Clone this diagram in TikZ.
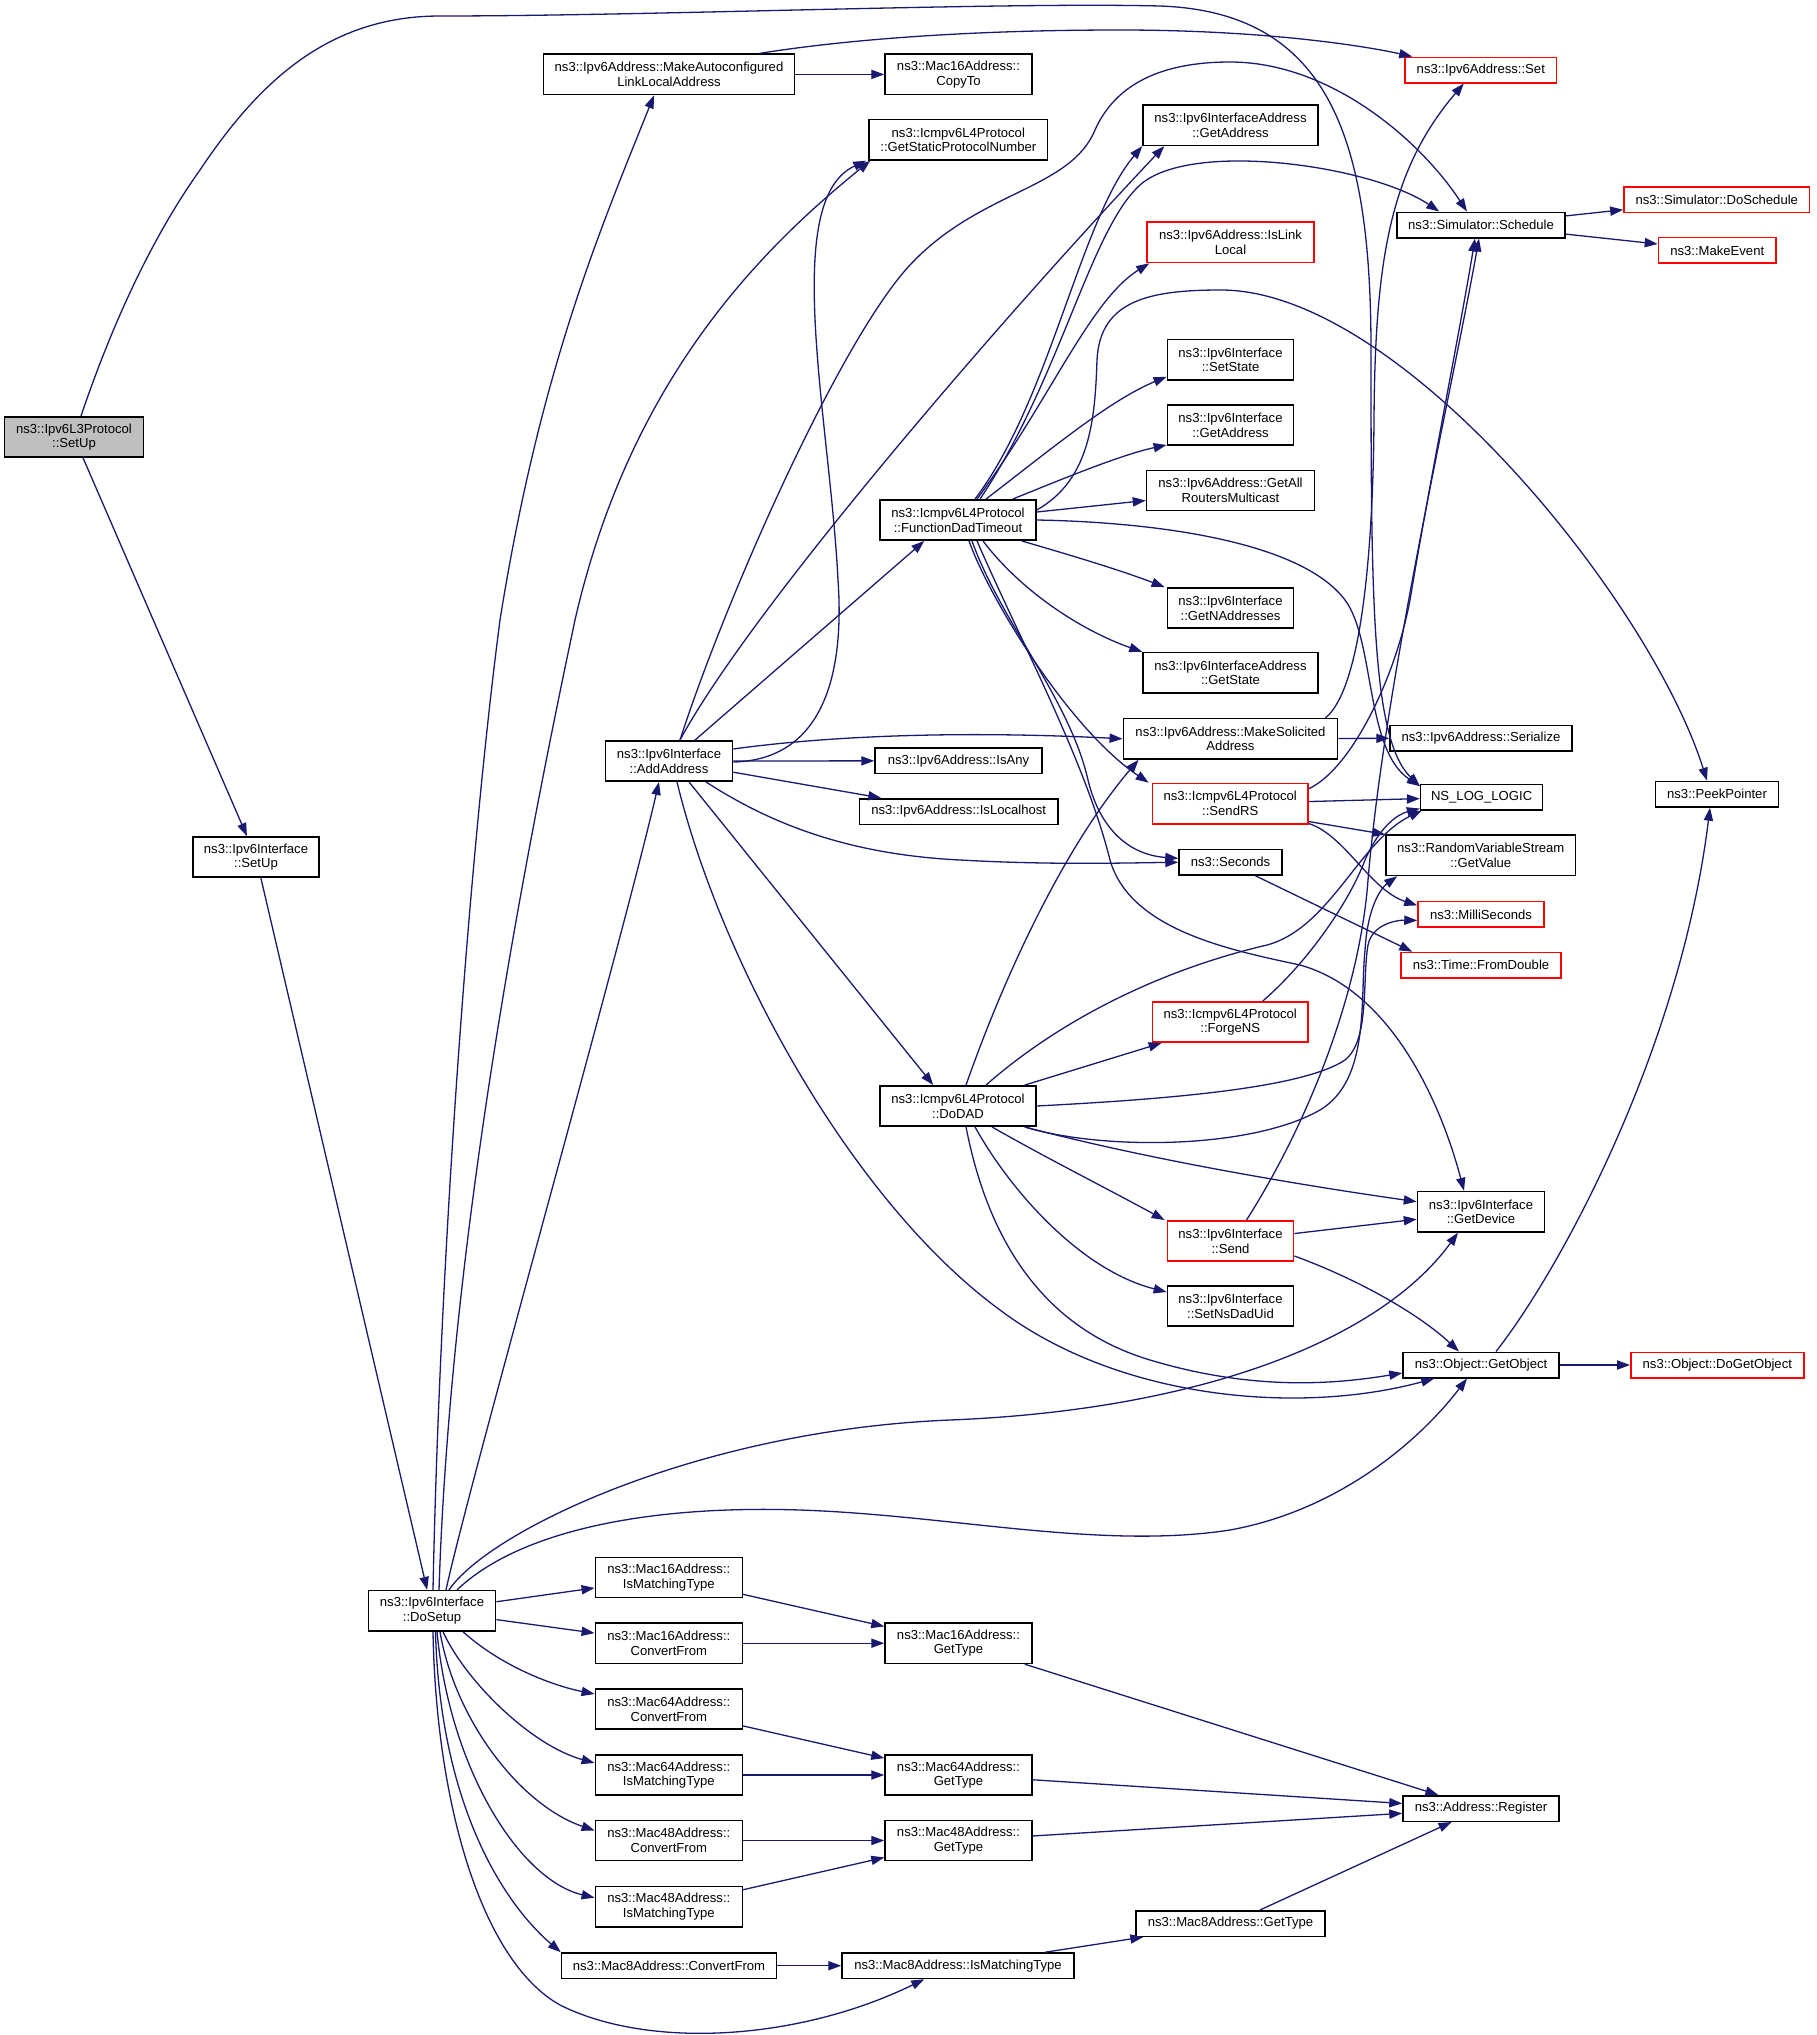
\documentclass[tikz,border=0pt]{standalone}
\usepackage{fontspec}
\setmainfont{Liberation Sans}
\usetikzlibrary{arrows.meta,calc}
\definecolor{edgec}{HTML}{191970}
\definecolor{rootfill}{HTML}{BFBFBF}
\tikzset{
 box/.style={draw=black, line width=0.75pt, fill=white, rectangle, inner sep=0pt, align=center,
   font=\fontsize{6.55pt}{7.35pt}\selectfont, minimum height=20.2pt},
 sbox/.style={box, minimum height=12.75pt},
 redc/.style={draw=red},
 edge/.style={draw=edgec, line width=0.65pt, -{Triangle[length=6.5pt,width=4.6pt]}},
}
\begin{document}
\begin{tikzpicture}[x=0.5pt,y=-0.5pt]
\useasboundingbox (0,0) rectangle (1816,2035);
% nodes
\node[box, fill=rootfill, minimum width=69.5pt] (setup3) at (74,437) {ns3::Ipv6L3Protocol\\::SetUp};
\node[box, minimum width=125.5pt] (makeauto) at (669,74.4) {ns3::Ipv6Address::MakeAutoconfigured\\LinkLocalAddress};
\node[box, minimum width=73.5pt] (copyto) at (958.5,74.4) {ns3::Mac16Address::\\CopyTo};
\node[box, minimum width=89.3pt] (getstatic) at (958.3,139.8) {ns3::Icmpv6L4Protocol\\::GetStaticProtocolNumber};
\node[box, minimum width=87.5pt] (ifaddrgetaddr) at (1230.5,125.2) {ns3::Ipv6InterfaceAddress\\::GetAddress};
\node[sbox, redc, minimum width=75.8pt] (set) at (1480.8,70) {ns3::Ipv6Address::Set};
\node[sbox, minimum width=84pt] (schedule) at (1481,225) {ns3::Simulator::Schedule};
\node[sbox, redc, minimum width=92.9pt] (doschedule) at (1716.8,199.7) {ns3::Simulator::DoSchedule};
\node[sbox, redc, minimum width=58.75pt] (makeevent) at (1717.2,250.4) {ns3::MakeEvent};
\node[box, redc, minimum width=83.5pt] (islinklocal) at (1230.5,242.4) {ns3::Ipv6Address::IsLink\\Local};
\node[box, minimum width=63.15pt] (setstate) at (1230.5,359.8) {ns3::Ipv6Interface\\::SetState};
\node[box, minimum width=63.15pt] (ifgetaddr) at (1230.5,425) {ns3::Ipv6Interface\\::GetAddress};
\node[box, minimum width=84pt] (getallrouters) at (1230.5,490.5) {ns3::Ipv6Address::GetAll\\RoutersMulticast};
\node[box, minimum width=78pt] (fdt) at (958,520) {ns3::Icmpv6L4Protocol\\::FunctionDadTimeout};
\node[box, minimum width=63.15pt] (getnaddr) at (1230.5,608) {ns3::Ipv6Interface\\::GetNAddresses};
\node[box, minimum width=87.5pt] (ifaddrgetstate) at (1230.5,672.8) {ns3::Ipv6InterfaceAddress\\::GetState};
\node[box, minimum width=63pt] (ifsetup) at (256,857) {ns3::Ipv6Interface\\::SetUp};
\node[box, minimum width=63.5pt] (addaddr) at (669,761) {ns3::Ipv6Interface\\::AddAddress};
\node[sbox, minimum width=83.5pt] (isany) at (958.5,760.8) {ns3::Ipv6Address::IsAny};
\node[sbox, minimum width=99.3pt] (islocalhost) at (958.7,811.5) {ns3::Ipv6Address::IsLocalhost};
\node[box, minimum width=78pt] (dodad) at (958,1106) {ns3::Icmpv6L4Protocol\\::DoDAD};
\node[box, minimum width=107.2pt] (makesol) at (1230.5,738.8) {ns3::Ipv6Address::MakeSolicited\\Address};
\node[sbox, minimum width=91pt] (serialize) at (1481,738) {ns3::Ipv6Address::Serialize};
\node[box, redc, minimum width=77.8pt] (sendrs) at (1230.2,803.6) {ns3::Icmpv6L4Protocol\\::SendRS};
\node[sbox, minimum width=61pt] (nslog) at (1481.6,797) {NS\_LOG\_LOGIC};
\node[box, minimum width=94.85pt] (getvalue) at (1480.8,855.3) {ns3::RandomVariableStream\\::GetValue};
\node[sbox, minimum width=51.5pt] (seconds) at (1230.5,862.3) {ns3::Seconds};
\node[sbox, redc, minimum width=63pt] (millis) at (1481,914.4) {ns3::MilliSeconds};
\node[sbox, redc, minimum width=80pt] (fromdouble) at (1481,965.2) {ns3::Time::FromDouble};
\node[sbox, minimum width=61.5pt] (peek) at (1717,794.2) {ns3::PeekPointer};
\node[box, redc, minimum width=77.8pt] (forgens) at (1230.2,1022) {ns3::Icmpv6L4Protocol\\::ForgeNS};
\node[box, minimum width=63.5pt] (getdevice) at (1481,1211.7) {ns3::Ipv6Interface\\::GetDevice};
\node[box, redc, minimum width=63.15pt] (send) at (1230.5,1241) {ns3::Ipv6Interface\\::Send};
\node[box, minimum width=63.15pt] (setnsdad) at (1230.5,1306) {ns3::Ipv6Interface\\::SetNsDadUid};
\node[sbox, minimum width=78pt] (getobject) at (1481,1365) {ns3::Object::GetObject};
\node[sbox, redc, minimum width=86.5pt] (dogetobject) at (1717.3,1365) {ns3::Object::DoGetObject};
\node[box, minimum width=63.7pt] (dosetup) at (432,1610.8) {ns3::Ipv6Interface\\::DoSetup};
\node[box, minimum width=73.5pt] (m16match) at (668.8,1577.5) {ns3::Mac16Address::\\IsMatchingType};
\node[box, minimum width=73.5pt] (m16conv) at (668.8,1643.2) {ns3::Mac16Address::\\ConvertFrom};
\node[box, minimum width=73.5pt] (m64conv) at (668.8,1709) {ns3::Mac64Address::\\ConvertFrom};
\node[box, minimum width=73.5pt] (m64match) at (668.8,1775) {ns3::Mac64Address::\\IsMatchingType};
\node[box, minimum width=73.5pt] (m48conv) at (668.8,1840.5) {ns3::Mac48Address::\\ConvertFrom};
\node[box, minimum width=73.5pt] (m48match) at (668.8,1906.7) {ns3::Mac48Address::\\IsMatchingType};
\node[sbox, minimum width=107.5pt] (m8conv) at (669,1965.7) {ns3::Mac8Address::ConvertFrom};
\node[box, minimum width=73.5pt] (m16type) at (958.5,1643.2) {ns3::Mac16Address::\\GetType};
\node[box, minimum width=73.5pt] (m64type) at (958.5,1775) {ns3::Mac64Address::\\GetType};
\node[box, minimum width=73.5pt] (m48type) at (958.5,1840.5) {ns3::Mac48Address::\\GetType};
\node[sbox, minimum width=116pt] (m8match) at (958,1965.7) {ns3::Mac8Address::IsMatchingType};
\node[sbox, minimum width=94.5pt] (m8type) at (1230.5,1923.5) {ns3::Mac8Address::GetType};
\node[sbox, minimum width=78pt] (register) at (1481,1808.5) {ns3::Address::Register};
% edges from Ipv6L3Protocol::SetUp
\draw[edge] ($(setup3.north)+(7,0)$) .. controls (110,330) and (150,240) .. (200,170) .. controls (260,80) and (330,16) .. (440,16) .. controls (650,16) and (1000,2) .. (1160,6) .. controls (1330,12) and (1371,140) .. (1371,350) .. controls (1371,600) and (1372,740) .. (nslog.170);
\draw[edge] (setup3) -- (ifsetup);
\draw[edge] (ifsetup) -- (dosetup);
% DoSetup
\draw[edge] ($(dosetup.north)+(1,0)$) .. controls (440,1250) and (470,850) .. (500,620) .. controls (540,370) and (600,230) .. ($(makeauto.south)+(-15,0)$);
\draw[edge] ($(dosetup.north)+(7,0)$) .. controls (450,1250) and (520,880) .. (575,620) .. controls (630,380) and (760,250) .. ($(getstatic.south west)+(2,0)$);
\draw[edge] ($(dosetup.north)+(14,0)$) .. controls (470,1480) and (620,950) .. ($(addaddr.south)+(-10,0)$);
\draw[edge] ($(dosetup.north)+(17,0)$) .. controls (490,1530) and (700,1430) .. (950,1420) .. controls (1200,1410) and (1380,1340) .. ($(getdevice.south)+(-23,0)$);
\draw[edge] ($(dosetup.north)+(25,0)$) .. controls (520,1530) and (650,1505) .. (800,1510) .. controls (950,1515) and (1100,1550) .. (1230,1530) .. controls (1340,1510) and (1420,1440) .. ($(getobject.south)+(-14,0)$);
\draw[edge] (dosetup) -- (m16match);
\draw[edge] (dosetup) -- (m16conv);
\draw[edge] ($(dosetup.south)+(31,0)$) .. controls (500,1665) and (550,1685) .. ($(m64conv.west)+(0,-15)$);
\draw[edge] ($(dosetup.south)+(11,0)$) .. controls (465,1680) and (530,1745) .. ($(m64match.west)+(0,-12)$);
\draw[edge] ($(dosetup.south)+(8,0)$) .. controls (455,1720) and (520,1805) .. ($(m48conv.west)+(0,-10)$);
\draw[edge] ($(dosetup.south)+(5,0)$) .. controls (450,1770) and (520,1880) .. ($(m48match.west)+(0,-9)$);
\draw[edge] ($(dosetup.south)+(3.5,0)$) .. controls (440,1800) and (500,1900) .. ($(m8conv.north west)+(0,0)$);
\draw[edge] ($(dosetup.south)+(1,0)$) .. controls (436,1800) and (480,1960) .. (560,2005) .. controls (650,2050) and (800,2040) .. ($(m8match.south west)+(83,0)$);
% Mac types
\draw[edge] (m16match) -- (m16type);
\draw[edge] (m16conv) -- (m16type);
\draw[edge] (m64conv) -- (m64type);
\draw[edge] (m64match) -- (m64type);
\draw[edge] (m48conv) -- (m48type);
\draw[edge] (m48match) -- (m48type);
\draw[edge] (m8conv) -- (m8match);
\draw[edge] (m8match) -- (m8type);
\draw[edge] (m16type) -- (register);
\draw[edge] (m64type) -- (register);
\draw[edge] (m48type) -- (register);
\draw[edge] (m8type) -- (register);
% GetObject
\draw[edge] (getobject) -- (dogetobject);
\draw[edge] ($(getobject.north)+(15,0)$) .. controls (1560,1270) and (1680,1050) .. ($(peek.south)+(-7,0)$);
% MakeAuto
\draw[edge] (makeauto) -- (copyto);
\draw[edge] ($(makeauto.north east)+(-36,0)$) .. controls (830,42) and (950,30) .. (1120,30) .. controls (1260,30) and (1360,45) .. ($(set.north west)+(8,0)$);
% Schedule
\draw[edge] (schedule) -- (doschedule);
\draw[edge] (schedule) -- (makeevent);
% AddAddress
\draw[edge] ($(addaddr.north)+(11,0)$) .. controls (725,600) and (840,340) .. (910,265) .. controls (980,190) and (1070,190) .. (1095,130) .. controls (1115,85) and (1160,62) .. (1230,62) .. controls (1330,62) and (1420,140) .. ($(schedule.north)+(-14,0)$);
\draw[edge] ($(addaddr.north)+(11,0)$) .. controls (750,610) and (1000,320) .. ($(ifaddrgetaddr.south west)+(22,0)$);
\draw[edge] ($(addaddr.east)+(0,1)$) .. controls (820,760) and (845,680) .. (838,580) .. controls (830,420) and (780,200) .. ($(getstatic.south west)+(-2,0)$);
\draw[edge] ($(addaddr.north)+(26,0)$) -- ($(fdt.south west)+(45,0)$);
\draw[edge] ($(addaddr.east)+(0,-12)$) .. controls (820,737) and (950,730) .. (makesol.west);
\draw[edge] (addaddr) -- (isany);
\draw[edge] (addaddr) -- (islocalhost);
\draw[edge] ($(addaddr.south)+(37,0)$) .. controls (780,830) and (860,855) .. (960,860) .. controls (1050,865) and (1120,863) .. (seconds.west);
\draw[edge] ($(addaddr.south)+(20,0)$) -- ($(dodad.north west)+(54,0)$);
\draw[edge] ($(addaddr.south)+(8,0)$) .. controls (720,960) and (850,1200) .. (1000,1310) .. controls (1120,1400) and (1300,1415) .. ($(getobject.south west)+(32,0)$);
% FunctionDadTimeout
\draw[edge] ($(fdt.north)+(17,0)$) .. controls (1050,400) and (1080,220) .. (ifaddrgetaddr.south west);
\draw[edge] ($(fdt.north)+(22,0)$) .. controls (1060,380) and (1090,230) .. (1140,185) .. controls (1190,140) and (1370,165) .. ($(schedule.north west)+(43,0)$);
\draw[edge] ($(fdt.north)+(19,0)$) .. controls (1050,400) and (1090,300) .. ($(islinklocal.south west)+(3,0)$);
\draw[edge] ($(fdt.north)+(28,0)$) .. controls (1050,450) and (1110,400) .. ($(setstate.south west)+(0,-4)$);
\draw[edge] ($(fdt.north east)+(-24,0)$) .. controls (1060,480) and (1120,455) .. ($(ifgetaddr.south west)+(0,-1)$);
\draw[edge] ($(fdt.east)+(0,-8)$) -- ($(getallrouters.west)+(0,10)$);
\draw[edge] (fdt.east) .. controls (1150,522) and (1300,540) .. (1345,600) .. controls (1375,640) and (1365,750) .. (nslog.170);
\draw[edge] ($(fdt.south east)+(-15,0)$) .. controls (1070,555) and (1120,570) .. ($(getnaddr.north west)+(-2,0)$);
\draw[edge] ($(fdt.south)+(25,0)$) .. controls (1020,590) and (1080,630) .. (ifaddrgetstate.north west);
\draw[edge] ($(fdt.south)+(11,0)$) .. controls (990,600) and (1070,730) .. ($(sendrs.north west)+(-3,0)$);
\draw[edge] ($(fdt.south)+(14,0)$) .. controls (1000,620) and (1070,700) .. (1088,780) .. controls (1100,830) and (1130,855) .. ($(seconds.west)+(0,-4)$);
\draw[edge] ($(fdt.south)+(19,0)$) .. controls (1020,640) and (1085,760) .. (1110,860) .. controls (1130,930) and (1230,950) .. (1300,965) .. controls (1390,990) and (1440,1100) .. ($(getdevice.north)+(-17,0)$);
\draw[edge] ($(fdt.east)+(0,-10)$) .. controls (1090,480) and (1095,420) .. (1097,360) .. controls (1100,300) and (1150,290) .. (1221,290) .. controls (1400,290) and (1650,600) .. ($(peek.north)+(-10,0)$);
% SendRS
\draw[edge] ($(sendrs.north east)+(0,6)$) .. controls (1350,770) and (1395,680) .. (1410,600) .. controls (1430,480) and (1460,330) .. ($(schedule.south)+(-6,0)$);
\draw[edge] (sendrs) -- (nslog);
\draw[edge] ($(sendrs.south east)+(0,-3)$) -- (getvalue.north west);
\draw[edge] ($(sendrs.south east)+(0,-1)$) .. controls (1345,835) and (1370,890) .. ($(millis.west)+(0,-9)$);
% Send
\draw[edge] ($(send.north)+(16,0)$) .. controls (1310,1120) and (1360,990) .. (1368,880) .. controls (1385,680) and (1450,400) .. ($(schedule.south)+(-2,0)$);
\draw[edge] (send) -- (getdevice);
\draw[edge] ($(send.east)+(0,15)$) .. controls (1360,1280) and (1420,1315) .. ($(getobject.north)+(-22,0)$);
% ForgeNS
\draw[edge] ($(forgens.north east)+(-46,0)$) .. controls (1310,960) and (1350,900) .. (1365,860) .. controls (1378,830) and (1395,815) .. ($(nslog.south west)+(0,-2)$);
% DoDAD
\draw[edge] ($(dodad.north)+(8,0)$) .. controls (1010,960) and (1070,840) .. ($(makesol.south west)+(16,0)$);
\draw[edge] ($(dodad.north east)+(-12,0)$) -- ($(forgens.south west)+(10,0)$);
\draw[edge] ($(dodad.north)+(28,0)$) .. controls (1060,1020) and (1160,970) .. (1267,945) .. controls (1330,928) and (1360,840) .. ($(nslog.south west)+(2,0)$);
\draw[edge] (dodad.east) .. controls (1150,1100) and (1300,1090) .. (1345,1060) .. controls (1370,1040) and (1362,980) .. (1368,945) .. controls (1372,925) and (1395,920) .. ($(millis.west)+(0,6)$);
\draw[edge] ($(dodad.south east)+(-12,0)$) .. controls (1100,1150) and (1250,1150) .. (1320,1110) .. controls (1370,1080) and (1360,1000) .. (1365,950) .. controls (1368,900) and (1385,885) .. ($(getvalue.south west)+(12,0)$);
\draw[edge] ($(dodad.south east)+(-12,0)$) .. controls (1150,1160) and (1300,1185) .. ($(getdevice.west)+(0,-10)$);
\draw[edge] ($(dodad.south)+(34,0)$) .. controls (1050,1160) and (1110,1190) .. ($(send.north west)+(-2,0)$);
\draw[edge] ($(dodad.south)+(17,0)$) .. controls (1010,1190) and (1080,1270) .. ($(setnsdad.west)+(0,-14)$);
\draw[edge] ($(dodad.south)+(8,0)$) .. controls (990,1250) and (1050,1330) .. (1150,1360) .. controls (1250,1390) and (1330,1385) .. ($(getobject.west)+(0,8)$);
% Seconds
\draw[edge] ($(seconds.south)+(25,0)$) -- ($(fromdouble.north west)+(12,0)$);
% MakeSolicited
\draw[edge] (makesol) -- (serialize);
\draw[edge] ($(makesol.north east)+(-13,0)$) .. controls (1360,690) and (1373,560) .. (1374,420) .. controls (1375,260) and (1390,170) .. ($(set.south)+(-17,0)$);
\end{tikzpicture}
\end{document}
